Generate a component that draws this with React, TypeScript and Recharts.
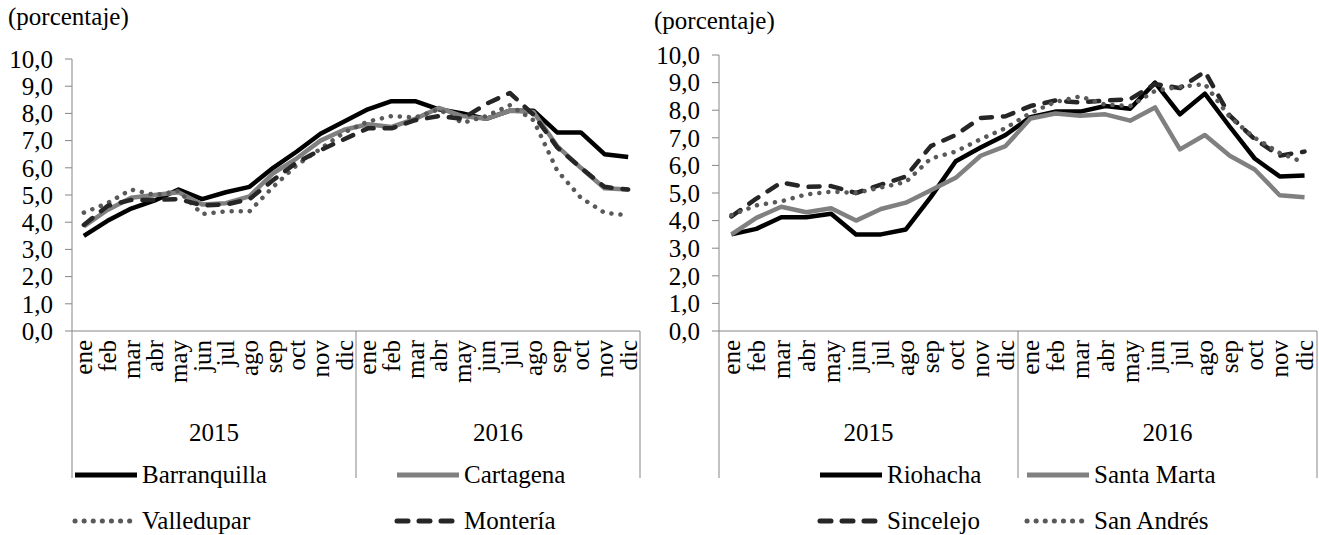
import React from 'react';
import { LineChart, Line, XAxis, YAxis } from 'recharts';

const months = ['ene', 'feb', 'mar', 'abr', 'may', 'jun', 'jul', 'ago', 'sep', 'oct', 'nov', 'dic'];
const years = ['2015', '2016'];
const yTicks = [0, 1, 2, 3, 4, 5, 6, 7, 8, 9, 10];

// panel izquierdo
const barranquilla = [3.5, 4.05, 4.5, 4.8, 5.2, 4.85, 5.1, 5.3, 6.0, 6.6, 7.25, 7.7, 8.15, 8.45, 8.45, 8.15, 8.0, 7.8, 8.1, 8.1, 7.3, 7.3, 6.5, 6.4];
const cartagena = [3.85, 4.45, 4.9, 5.0, 5.1, 4.65, 4.7, 4.95, 5.8, 6.35, 7.0, 7.4, 7.6, 7.5, 7.8, 8.2, 7.9, 7.8, 8.1, 8.05, 6.8, 6.0, 5.25, 5.2];
const valledupar = [4.35, 4.7, 5.2, 5.0, 5.15, 4.3, 4.4, 4.4, 5.3, 6.1, 6.7, 7.3, 7.7, 7.9, 7.85, 8.15, 7.65, 7.9, 8.3, 7.75, 5.9, 4.9, 4.35, 4.25];
const monteria = [3.9, 4.6, 4.82, 4.82, 4.85, 4.62, 4.65, 4.85, 5.55, 6.2, 6.65, 7.05, 7.45, 7.45, 7.75, 7.9, 7.8, 8.35, 8.75, 7.95, 6.75, 6.0, 5.3, 5.2];

// panel derecho
const riohacha = [3.5, 3.7, 4.12, 4.12, 4.25, 3.5, 3.5, 3.68, 4.85, 6.15, 6.65, 7.1, 7.75, 7.95, 7.95, 8.15, 8.05, 9.0, 7.85, 8.6, 7.4, 6.25, 5.6, 5.63];
const santaMarta = [3.5, 4.1, 4.5, 4.3, 4.45, 4.0, 4.42, 4.65, 5.1, 5.55, 6.35, 6.7, 7.7, 7.88, 7.8, 7.85, 7.62, 8.1, 6.58, 7.1, 6.35, 5.85, 4.92, 4.85];
const sincelejo = [4.15, 4.8, 5.38, 5.22, 5.25, 5.0, 5.3, 5.6, 6.7, 7.1, 7.72, 7.78, 8.15, 8.35, 8.28, 8.35, 8.4, 8.95, 8.8, 9.4, 7.8, 6.95, 6.35, 6.5];
const sanAndres = [4.2, 4.55, 4.7, 4.95, 5.05, 5.0, 5.2, 5.4, 6.25, 6.5, 6.95, 7.35, 7.9, 8.3, 8.5, 8.2, 8.15, 8.7, 8.85, 8.95, 7.75, 7.0, 6.45, 6.1];

const FONT = '"Liberation Serif", "Times New Roman", serif';
const FS = 25;
const AXIS = '#868686';
const PLOT_BOTTOM = 331;

const styles = {
  solidBlack: { stroke: '#000000', dash: undefined, cap: 'butt' },
  solidGray: { stroke: '#808080', dash: undefined, cap: 'butt' },
  dashed: { stroke: '#262626', dash: '11 11', cap: 'round' },
  dotted: { stroke: '#595959', dash: '0.1 9', cap: 'round' },
} as const;

type Series = { key: string; name: string; values: number[]; style: keyof typeof styles };

const leftSeries: Series[] = [
  { key: 'barranquilla', name: 'Barranquilla', values: barranquilla, style: 'solidBlack' },
  { key: 'cartagena', name: 'Cartagena', values: cartagena, style: 'solidGray' },
  { key: 'valledupar', name: 'Valledupar', values: valledupar, style: 'dotted' },
  { key: 'monteria', name: 'Montería', values: monteria, style: 'dashed' },
];

const rightSeries: Series[] = [
  { key: 'riohacha', name: 'Riohacha', values: riohacha, style: 'solidBlack' },
  { key: 'santaMarta', name: 'Santa Marta', values: santaMarta, style: 'solidGray' },
  { key: 'sincelejo', name: 'Sincelejo', values: sincelejo, style: 'dashed' },
  { key: 'sanAndres', name: 'San Andrés', values: sanAndres, style: 'dotted' },
];

function buildRows(series: Series[]) {
  const rows: Record<string, any>[] = [];
  years.forEach((yr, yi) => {
    months.forEach((m, mi) => {
      const i = yi * 12 + mi;
      const row: Record<string, any> = { slot: `${yr}-${m}`, month: m, year: yr };
      series.forEach((s) => (row[s.key] = s.values[i]));
      rows.push(row);
    });
  });
  return rows;
}

const MonthTick = (props: any) => {
  const { x, payload, index, band } = props;
  const m = String(payload.value).split('-')[1];
  const top = PLOT_BOTTOM + 9;
  const bottom = PLOT_BOTTOM + 147;
  const parts: React.ReactNode[] = [
    <text
      key="t"
      x={x}
      y={top}
      transform={`rotate(-90 ${x} ${top})`}
      textAnchor="end"
      dominantBaseline="central"
      fontFamily={FONT}
      fontSize={FS}
      fill="#000"
    >
      {m}
    </text>,
  ];
  if (index === 0) {
    parts.push(<line key="l0" x1={x - band / 2} x2={x - band / 2} y1={PLOT_BOTTOM} y2={bottom} stroke={AXIS} />);
  }
  if (index % 12 === 11) {
    const xr = x + band / 2;
    parts.push(<line key="lr" x1={xr} x2={xr} y1={PLOT_BOTTOM} y2={bottom} stroke={AXIS} />);
    parts.push(
      <text key="yr" x={x - 5.5 * band} y={PLOT_BOTTOM + 101} textAnchor="middle" dominantBaseline="central" fontFamily={FONT} fontSize={FS} fill="#000">
        {years[Math.floor(index / 12)]}
      </text>
    );
  }
  return <g>{parts}</g>;
};

function Panel({ series, width, yWidth, marginTop, marginRight }: { series: Series[]; width: number; yWidth: number; marginTop: number; marginRight: number }) {
  const rows = buildRows(series);
  const band = (width - yWidth - marginRight) / 24;
  return (
    <LineChart width={width} height={490} data={rows} margin={{ top: marginTop, right: marginRight, left: 0, bottom: 0 }} style={{ overflow: 'visible' }}>
      <XAxis
        dataKey="slot"
        interval={0}
        height={159}
        padding={{ left: band / 2, right: band / 2 }}
        tickLine={false}
        axisLine={{ stroke: AXIS }}
        tick={(p: any) => <MonthTick {...p} band={band} />}
      />
      <YAxis
        width={yWidth}
        domain={[0, 10]}
        ticks={yTicks}
        interval={0}
        tickSize={7}
        tickMargin={12}
        axisLine={{ stroke: AXIS }}
        tickLine={{ stroke: AXIS }}
        tick={{ fontFamily: FONT, fontSize: FS, fill: '#000' }}
        tickFormatter={(v: number) => v.toFixed(1).replace('.', ',')}
      />
      {series.map((s) => {
        const st = styles[s.style];
        return (
          <Line
            key={s.key}
            dataKey={s.key}
            name={s.name}
            type="linear"
            stroke={st.stroke}
            strokeWidth={4.5}
            strokeDasharray={st.dash}
            strokeLinecap={st.cap as any}
            strokeLinejoin="round"
            dot={false}
            activeDot={false}
            isAnimationActive={false}
          />
        );
      })}
    </LineChart>
  );
}

function LegendItem({ s, left, cy }: { s: Series; left: number; cy: number }) {
  const st = styles[s.style];
  return (
    <div style={{ position: 'absolute', left, top: cy - 16, height: 32, display: 'flex', alignItems: 'center', whiteSpace: 'nowrap' }}>
      <svg width={68} height={10}>
        <line x1={3} x2={65} y1={5} y2={5} stroke={st.stroke} strokeWidth={5} strokeDasharray={st.dash} strokeLinecap={st.cap as any} />
      </svg>
      <span style={{ fontFamily: FONT, fontSize: FS, color: '#000', marginLeft: 2 }}>{s.name}</span>
    </div>
  );
}

export default function App() {
  return (
    <div style={{ position: 'absolute', left: 0, top: 0, width: 1319, height: 535, background: '#fff', overflow: 'hidden' }}>
      <div style={{ position: 'absolute', left: 8, top: 3, fontFamily: FONT, fontSize: FS }}>(porcentaje)</div>
      <div style={{ position: 'absolute', left: 654, top: 7, fontFamily: FONT, fontSize: FS }}>(porcentaje)</div>
      <div style={{ position: 'absolute', left: 0, top: 0 }}>
        <Panel series={leftSeries} width={650} yWidth={72} marginTop={59} marginRight={10} />
      </div>
      <div style={{ position: 'absolute', left: 650, top: 0 }}>
        <Panel series={rightSeries} width={669} yWidth={69} marginTop={55} marginRight={2} />
      </div>
      <LegendItem s={leftSeries[0]} left={72} cy={475} />
      <LegendItem s={leftSeries[1]} left={394} cy={475} />
      <LegendItem s={leftSeries[2]} left={72} cy={521} />
      <LegendItem s={leftSeries[3]} left={394} cy={521} />
      <LegendItem s={rightSeries[0]} left={817} cy={475} />
      <LegendItem s={rightSeries[1]} left={1024} cy={475} />
      <LegendItem s={rightSeries[2]} left={817} cy={521} />
      <LegendItem s={rightSeries[3]} left={1024} cy={521} />
    </div>
  );
}
